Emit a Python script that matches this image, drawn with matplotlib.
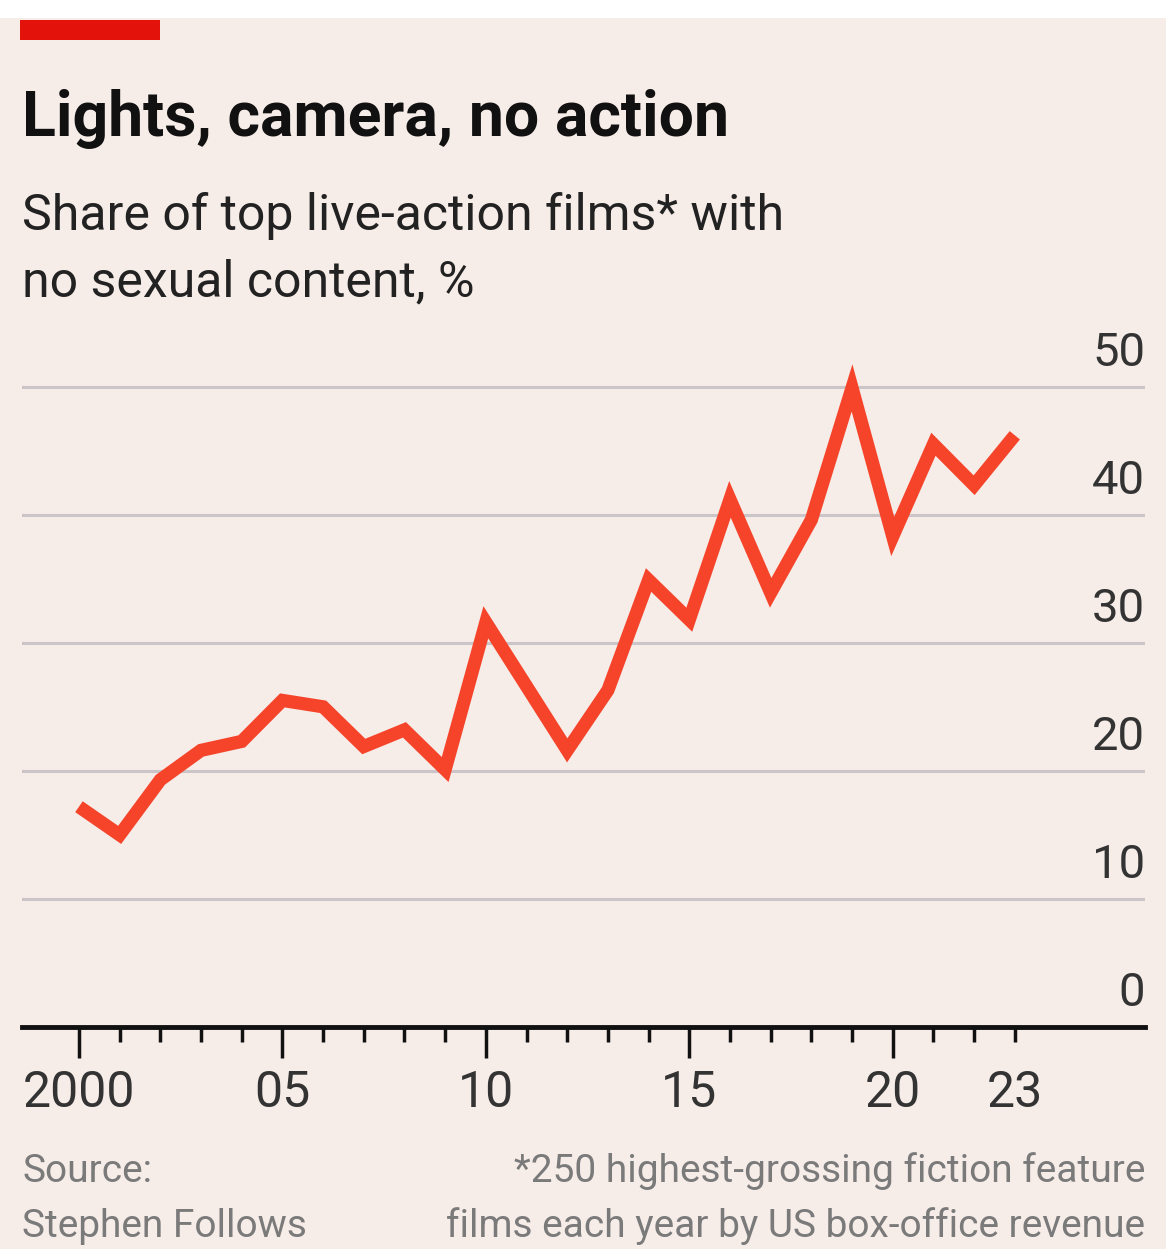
import matplotlib
matplotlib.use("Agg")
import matplotlib.pyplot as plt
from matplotlib import font_manager
from matplotlib.patches import Rectangle

# Data
years = [2000, 2001, 2002, 2003, 2004, 2005, 2006, 2007, 2008, 2009, 2010, 2011,
         2012, 2013, 2014, 2015, 2016, 2017, 2018, 2019, 2020, 2021, 2022, 2023]
share = [17.2, 15.0, 19.3, 21.6, 22.3, 25.5, 25.0, 21.9, 23.2, 20.1, 31.6, 26.6,
         21.6, 26.3, 34.9, 31.8, 41.2, 33.9, 39.6, 49.9, 38.3, 45.5, 42.3, 46.2]
y_ticks = [0, 10, 20, 30, 40, 50]
x_major = [2000, 2005, 2010, 2015, 2020, 2023]
x_labels = ["2000", "05", "10", "15", "20", "23"]

names = {f.name for f in font_manager.fontManager.ttflist}
narrow = "Liberation Sans Narrow" if "Liberation Sans Narrow" in names else "Roboto"
foot_size = 24 if narrow == "Liberation Sans Narrow" else 28

bg = "#F6ECE8"
red = "#F5442A"

fig = plt.figure(figsize=(11.66, 12.49), dpi=100)
fig.patch.set_facecolor(bg)

# white strip at the top and the red tag
fig.patches.append(Rectangle((0, 1 - 18 / 1249), 1, 18 / 1249, transform=fig.transFigure,
                             facecolor="white", edgecolor="none"))
fig.patches.append(Rectangle((20 / 1166, 1 - 40 / 1249), 140 / 1166, 20 / 1249,
                             transform=fig.transFigure, facecolor="#E3120B", edgecolor="none"))

fig.text(22 / 1166, 1 - 136 / 1249, "Lights, camera, no action", fontsize=45,
         fontweight="bold", family="Roboto", color="#111111", va="baseline")
fig.text(22 / 1166, 1 - 230 / 1249, "Share of top live-action films* with", fontsize=36,
         family="Roboto", color="#222222", va="baseline")
fig.text(22 / 1166, 1 - 296 / 1249, "no sexual content, %", fontsize=36,
         family="Roboto", color="#222222", va="baseline")

ax = fig.add_axes([22 / 1166, 1 - 1027 / 1249, 1123 / 1166, (1027 - 361) / 1249])
ax.set_facecolor(bg)
ax.set_xlim(1998.6, 2026.2)
ax.set_ylim(0, 52)

for v in y_ticks[1:]:
    ax.axhline(v, color="#CCC5C8", lw=2.2, zorder=1)
for v in y_ticks:
    ax.text(1.0, v + 0.9, str(v), transform=ax.get_yaxis_transform(), ha="right",
            va="bottom", fontsize=34, family="Roboto", color="#333333")

ax.plot(years, share, color=red, lw=9.5, solid_joinstyle="miter", solid_capstyle="butt", zorder=3)

for s in ["top", "right", "left"]:
    ax.spines[s].set_visible(False)
ax.spines["bottom"].set_linewidth(3.5)
ax.spines["bottom"].set_color("#111111")
ax.spines["bottom"].set_zorder(4)

ax.set_yticks([])
ax.set_xticks([2000, 2005, 2010, 2015, 2020])
ax.set_xticks(years, minor=True)
ax.set_xticklabels([])
ax.tick_params(axis="x", which="major", length=22, width=2.5, color="#111111")
ax.tick_params(axis="x", which="minor", length=11, width=2.5, color="#111111")
for x, lab in zip(x_major, x_labels):
    ax.text(x, -0.063, lab, transform=ax.get_xaxis_transform(), ha="center", va="top",
            fontsize=36, family="Roboto", color="#333333")

fig.text(22 / 1166, 1 - 1182 / 1249, "Source:", fontsize=foot_size, family=narrow,
         color="#7A7A7A", va="baseline")
fig.text(22 / 1166, 1 - 1237 / 1249, "Stephen Follows", fontsize=foot_size, family=narrow,
         color="#7A7A7A", va="baseline")
fig.text(1145 / 1166, 1 - 1182 / 1249, "*250 highest-grossing fiction feature",
         fontsize=foot_size, family=narrow, color="#7A7A7A", va="baseline", ha="right")
fig.text(1145 / 1166, 1 - 1237 / 1249, "films each year by US box-office revenue",
         fontsize=foot_size, family=narrow, color="#7A7A7A", va="baseline", ha="right")

fig.savefig("out.png", dpi=100, facecolor=bg)
